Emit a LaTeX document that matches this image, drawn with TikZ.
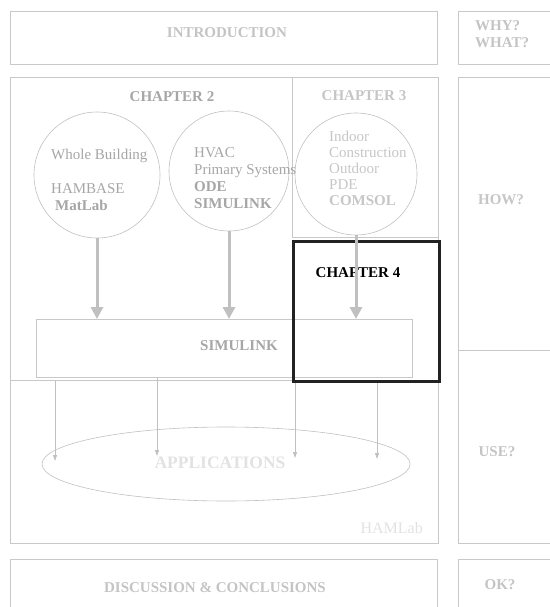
\documentclass[tikz,border=0pt]{standalone}
\usepackage{fontspec}
\setmainfont{Liberation Serif}
\usetikzlibrary{arrows.meta,shapes.geometric}
\definecolor{framegray}{HTML}{C8C8C8}
\definecolor{softgray}{HTML}{C4C4C4}
\definecolor{midgray}{HTML}{A6A6A6}
\definecolor{palegray}{HTML}{C6C6C6}
\definecolor{ghostgray}{HTML}{E2E2E2}
\definecolor{arrowgray}{HTML}{C0C0C0}
\definecolor{inkdark}{HTML}{222222}
\begin{document}
\begin{tikzpicture}[x=1pt, y=-1pt,
    font=\fontsize{15}{17}\selectfont,
    frame/.style={draw=framegray, line width=0.8pt, rectangle, inner sep=0pt, anchor=north west},
    ring/.style={draw=arrowgray, line width=0.6pt, circle, inner sep=0pt},
    title/.style={inner sep=0pt, anchor=base, font=\fontsize{15}{17}\selectfont\bfseries},
    lines/.style={inner sep=0pt, anchor=base west, align=left},
    bigarr/.style={draw=arrowgray, line width=3pt, -{Triangle[width=12pt,length=12pt]}},
    thinarr/.style={draw=arrowgray, line width=0.8pt, -{Triangle[width=4pt,length=6pt]}}]
    \useasboundingbox (0,0) rectangle (549,607);

    % boxes
    \node[frame, minimum width=427, minimum height=53] (intro) at (10,11) {};
    \node[frame, minimum width=100, minimum height=53] (why) at (458,11) {};
    \node[frame, minimum width=428, minimum height=466] (hamlab) at (10,77) {};
    \node[frame, minimum width=428, minimum height=303] (models) at (10,77) {};
    \node[frame, minimum width=146, minimum height=160] (chthree) at (292,77) {};
    \node[frame, minimum width=376, minimum height=58] (simbox) at (36,319) {};
    \node[frame, minimum width=100, minimum height=273] (how) at (458,77) {};
    \node[frame, minimum width=100, minimum height=193] (use) at (458,350) {};
    \node[frame, minimum width=427, minimum height=60] (disc) at (10,559) {};
    \node[frame, minimum width=100, minimum height=60] (ok) at (458,559) {};
    \node[draw=inkdark, line width=3pt, rectangle, inner sep=0pt, anchor=north west,
        minimum width=146, minimum height=140] (chfour) at (292,240) {};

    % circles
    \node[ring, minimum size=126] (whole) at (97,175) {};
    \node[ring, minimum size=120] (hvac) at (229,171) {};
    \node[ring, minimum size=122] (indoor) at (356,174) {};
    \node[draw=arrowgray, line width=0.6pt, ellipse, inner sep=0pt,
        minimum width=368, minimum height=74] (apps) at (226,464) {};

    % texts (multi-line ones sit on their last baseline)
    \node[title, text=softgray] (introtxt) at (227,38) {INTRODUCTION};
    \node[lines, text=softgray, font=\fontsize{15}{17}\selectfont\bfseries] (whytxt) at (475,48) {WHY?\\WHAT?};
    \node[title, text=midgray] (chtwotxt) at (172,102) {CHAPTER 2};
    \node[title, text=palegray] (chthreetxt) at (364,101) {CHAPTER 3};
    \node[title, text=black] (chfourtxt) at (358,277) {CHAPTER 4};
    \node[lines, text=midgray] (wholetxt) at (51,210)
        {Whole Building\\[17pt]HAMBASE\\\hspace{4pt}\textbf{MatLab}};
    \node[lines, text=midgray, font=\fontsize{15}{16.7}\selectfont] (hvactxt) at (194,208)
        {HVAC\\Primary Systems\\\textbf{ODE}\\\textbf{SIMULINK}};
    \node[lines, text=palegray, font=\fontsize{15}{16}\selectfont] (indoortxt) at (329,205)
        {Indoor\\Construction\\Outdoor\\PDE\\\textbf{COMSOL}};
    \node[title, text=midgray] (simtxt) at (239,350) {SIMULINK};
    \node[title, text=ghostgray, font=\fontsize{17.5}{20}\selectfont\bfseries] (appstxt) at (220,468) {APPLICATIONS};
    \node[inner sep=0pt, anchor=base east, text=ghostgray, font=\fontsize{16}{18}\selectfont] (hamlabtxt) at (423,533) {HAMLab};
    \node[title, text=palegray] (howtxt) at (501,204) {HOW?};
    \node[title, text=softgray] (usetxt) at (497,456) {USE?};
    \node[title, text=softgray] (disctxt) at (215,592) {DISCUSSION \& CONCLUSIONS};
    \node[title, text=softgray] (oktxt) at (500,589) {OK?};

    % arrows
    \foreach \c in {whole, hvac, indoor}
        \draw[bigarr] (\c.south) -- (\c.south |- simbox.north);
    \foreach \x/\from/\y in {55/models/461, 157/simbox/456, 295/chfour/458, 377/chfour/459}
        \draw[thinarr] (\x,0 |- \from.south) -- (\x,\y);
\end{tikzpicture}
\end{document}
